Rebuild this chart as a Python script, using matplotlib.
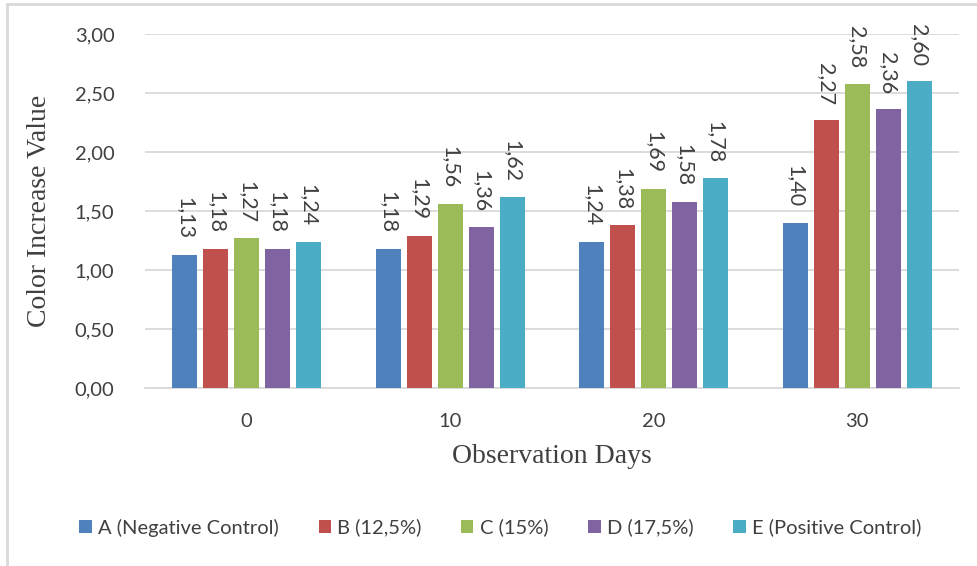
import matplotlib.pyplot as plt
from matplotlib.patches import Rectangle
import numpy as np

days = ['0', '10', '20', '30']
series = ['A (Negative Control)', 'B (12,5%)', 'C (15%)', 'D (17,5%)', 'E (Positive Control)']
A = [1.13, 1.18, 1.24, 1.40]
B = [1.18, 1.29, 1.38, 2.27]
C = [1.27, 1.56, 1.69, 2.58]
D = [1.18, 1.36, 1.58, 2.36]
E = [1.24, 1.62, 1.78, 2.60]
colors = ['#4F81BD', '#C0504D', '#9BBB59', '#8064A2', '#4BACC6']

sans = ['Lato', 'DejaVu Sans']
serif = 'Liberation Serif'
txt = '#404040'

fig = plt.figure(figsize=(9.77, 5.66), dpi=100)
ax = fig.add_axes([0.1484, 0.3145, 0.8332, 0.6255])

x = np.arange(len(days))
width = 0.123
step = 0.152
for i, (vals, name) in enumerate(zip([A, B, C, D, E], series)):
    pos = x + (i - 2) * step
    ax.bar(pos, vals, width, color=colors[i], label=name, zorder=3)
    for p, v in zip(pos, vals):
        ax.annotate(f'{v:.2f}'.replace('.', ','), (p, v), xytext=(0, 11),
                    textcoords='offset points', rotation=-90, ha='center', va='bottom',
                    fontsize=15.5, color=txt, family=sans)

ax.set_xlim(-0.5, 3.5)
ax.set_ylim(0, 3)
yt = np.arange(0, 3.01, 0.5)
ax.set_yticks(yt)
ax.set_yticklabels([f'{t:.2f}'.replace('.', ',') for t in yt], family=sans, fontsize=14.5, color=txt)
ax.set_xticks(x)
ax.set_xticklabels(days, family=sans, fontsize=14.5, color=txt)
ax.tick_params(axis='x', length=0, pad=18)
ax.tick_params(axis='y', length=0, pad=22)
ax.yaxis.grid(True, color='#D9D9D9', lw=1.3, zorder=0)
for s in ['top', 'right', 'left']:
    ax.spines[s].set_visible(False)
ax.spines['bottom'].set_color('#D9D9D9')
ax.spines['bottom'].set_linewidth(1.3)

ax.set_ylabel('Color Increase Value', family=serif, fontsize=20, color=txt, labelpad=16)
ax.set_xlabel('Observation Days', family=serif, fontsize=20, color=txt, labelpad=10)

leg = fig.legend(loc='center', bbox_to_anchor=(0.512, 0.068), ncol=5, frameon=False,
                 prop={'family': sans, 'size': 14.5}, handlelength=0.6, handleheight=0.6,
                 handletextpad=0.3, columnspacing=2.0)
for t in leg.get_texts():
    t.set_color(txt)

fig.patches.append(Rectangle((7 / 977, -0.1), 1.1, 1.1 - 4 / 566, transform=fig.transFigure,
                             fill=False, edgecolor='#D9D9D9', lw=2, clip_on=False))

fig.savefig('out.png', dpi=100)
